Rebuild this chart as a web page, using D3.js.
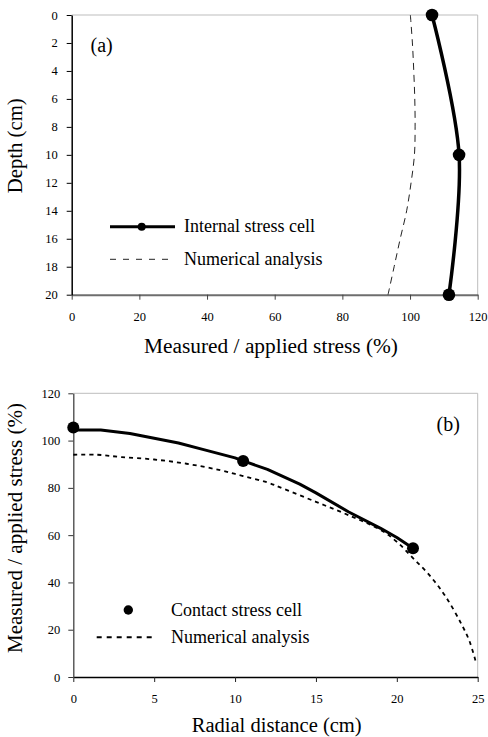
<!DOCTYPE html>
<html><head><meta charset="utf-8">
<script src="https://cdn.jsdelivr.net/npm/d3@7/dist/d3.min.js"></script>
<style>
body{margin:0;background:#fff}
svg{display:block}
</style>
</head><body><svg id="c" width="488" height="737"></svg>
<script>
// ---------- Panel (a) data ----------
const depthA = [0, 10, 20];
const internalStressA = [106.5, 114.5, 111.5];
const numDepthA = [0, 2, 4, 6, 8, 10, 12, 14, 16, 18, 20];
const numStressA = [100.1, 100.7, 101.1, 101.4, 101.5, 101.3, 100.3, 99.0, 97.1, 95.3, 93.5];
const xTicksA = [0, 20, 40, 60, 80, 100, 120];
const yTicksA = [0, 2, 4, 6, 8, 10, 12, 14, 16, 18, 20];
const labelA = "(a)";
const xTitleA = "Measured / applied stress (%)";
const yTitleA = "Depth (cm)";
const legendA = ["Internal stress cell", "Numerical analysis"];

// ---------- Panel (b) data ----------
const contactX = [0, 10.5, 21];
const contactStress = [105.5, 91.4, 54.5];
const measuredX = [0, 1.7, 3.5, 5, 6.5, 8, 10, 10.5, 12, 14, 15, 17, 19, 20, 21];
const measuredStress = [104.5, 104.5, 103, 101, 99, 96.3, 92.7, 91.4, 87.8, 81.6, 77.9, 69.9, 62.9, 59, 54.5];
const numXB = [0, 1.5, 3, 5, 7, 9, 10.5, 12, 13, 15, 17, 19, 20, 21, 22, 23, 24, 24.5, 24.9];
const numStressB = [94, 94, 93, 92, 90.2, 87.6, 85, 82.3, 79.6, 74.1, 68.5, 62.2, 57.2, 50.3, 43.2, 34.2, 22.3, 15, 6];
const xTicksB = [0, 5, 10, 15, 20, 25];
const yTicksB = [0, 20, 40, 60, 80, 100, 120];
const labelB = "(b)";
const xTitleB = "Radial distance (cm)";
const yTitleB = "Measured / applied stress (%)";
const legendB = ["Contact stress cell", "Numerical analysis"];

const svg = d3.select("#c");

// ================= Panel (a) =================
{
  const L = 71.7, R = 477.7, T = 15, B = 294.7;
  const x = d3.scaleLinear().domain([0, 120]).range([L, R]);
  const y = d3.scaleLinear().domain([0, 20]).range([T, B]);
  const g = svg.append("g");

  g.append("path").attr("d", `M${L},${T}H${R}V${B}`).attr("fill", "none")
    .attr("stroke", "#bdbdbd").attr("stroke-width", 1);

  const xa = g.append("g").attr("transform", `translate(0,${B})`)
    .call(d3.axisBottom(x).tickValues(xTicksA).tickSize(5).tickSizeOuter(0).tickPadding(12));
  xa.select(".domain").attr("stroke", "#6e6e6e").attr("stroke-width", 2);
  xa.selectAll(".tick line").attr("stroke", "#444").attr("stroke-width", 1);
  xa.selectAll(".tick text").attr("font-size", 12.5).attr("fill", "#111");

  const ya = g.append("g").attr("transform", `translate(${L},0)`)
    .call(d3.axisLeft(y).tickValues(yTicksA).tickSize(5).tickSizeOuter(0).tickPadding(9));
  ya.select(".domain").attr("stroke", "#000").attr("stroke-width", 1.5);
  ya.selectAll(".tick line").attr("stroke", "#000").attr("stroke-width", 1);
  ya.selectAll(".tick text").attr("font-size", 12.5).attr("fill", "#111");

  const numLine = d3.line().x((d, i) => x(numStressA[i])).y(d => y(d)).curve(d3.curveCatmullRom);
  g.append("path").attr("d", numLine(numDepthA)).attr("fill", "none")
    .attr("stroke", "#222").attr("stroke-width", 1).attr("stroke-dasharray", "7,5");

  const cellLine = d3.line().x((d, i) => x(internalStressA[i])).y(d => y(d)).curve(d3.curveCardinal.tension(0));
  g.append("path").attr("d", cellLine(depthA)).attr("fill", "none")
    .attr("stroke", "#000").attr("stroke-width", 3.5);
  g.selectAll("circle.pa").data(depthA).join("circle").attr("class", "pa")
    .attr("cx", (d, i) => x(internalStressA[i])).attr("cy", d => y(d)).attr("r", 6.3).attr("fill", "#000");

  g.append("text").attr("x", 90.5).attr("y", 52).attr("font-size", 20).text(labelA);

  g.append("line").attr("x1", 110).attr("x2", 175).attr("y1", 226.7).attr("y2", 226.7)
    .attr("stroke", "#000").attr("stroke-width", 3);
  g.append("circle").attr("cx", 141.7).attr("cy", 226.7).attr("r", 4).attr("fill", "#000");
  g.append("text").attr("x", 184).attr("y", 231.8).attr("font-size", 18).text(legendA[0]);
  g.append("line").attr("x1", 110).attr("x2", 175).attr("y1", 259.3).attr("y2", 259.3)
    .attr("stroke", "#222").attr("stroke-width", 1).attr("stroke-dasharray", "6,7");
  g.append("text").attr("x", 184).attr("y", 265).attr("font-size", 18).text(legendA[1]);

  g.append("text").attr("x", 271).attr("y", 353).attr("text-anchor", "middle").attr("font-size", 20)
    .attr("textLength", 254).attr("lengthAdjust", "spacingAndGlyphs").text(xTitleA);
  g.append("text").attr("transform", "translate(22,145.8) rotate(-90)").attr("text-anchor", "middle")
    .attr("font-size", 20).attr("textLength", 95).attr("lengthAdjust", "spacingAndGlyphs").text(yTitleA);
}

// ================= Panel (b) =================
{
  const L = 73.3, R = 477.7, T = 393.3, B = 677;
  const x = d3.scaleLinear().domain([0, 25]).range([L, R]);
  const y = d3.scaleLinear().domain([0, 120]).range([B, T]);
  const g = svg.append("g");

  g.append("path").attr("d", `M${L},${T}H${R}V${B}`).attr("fill", "none")
    .attr("stroke", "#bdbdbd").attr("stroke-width", 1);

  const xa = g.append("g").attr("transform", `translate(0,${B})`)
    .call(d3.axisBottom(x).tickValues(xTicksB).tickSize(5).tickSizeOuter(0).tickPadding(12));
  xa.select(".domain").attr("stroke", "#000").attr("stroke-width", 1.5);
  xa.selectAll(".tick line").attr("stroke", "#222").attr("stroke-width", 1);
  xa.selectAll(".tick text").attr("font-size", 12.5).attr("fill", "#111");

  const ya = g.append("g").attr("transform", `translate(${L},0)`)
    .call(d3.axisLeft(y).tickValues(yTicksB).tickSize(5).tickSizeOuter(0).tickPadding(8));
  ya.select(".domain").attr("stroke", "#444").attr("stroke-width", 1.3);
  ya.selectAll(".tick line").attr("stroke", "#333").attr("stroke-width", 1);
  ya.selectAll(".tick text").attr("font-size", 12.5).attr("fill", "#111");

  const numLine = d3.line().x(d => x(d)).y((d, i) => y(numStressB[i])).curve(d3.curveCatmullRom);
  g.append("path").attr("d", numLine(numXB)).attr("fill", "none")
    .attr("stroke", "#000").attr("stroke-width", 1.8).attr("stroke-dasharray", "4,4");

  const mLine = d3.line().x(d => x(d)).y((d, i) => y(measuredStress[i]));
  g.append("path").attr("d", mLine(measuredX)).attr("fill", "none")
    .attr("stroke", "#000").attr("stroke-width", 3).attr("stroke-linejoin", "round");

  g.selectAll("circle.pb").data(contactX).join("circle").attr("class", "pb")
    .attr("cx", d => x(d)).attr("cy", (d, i) => y(contactStress[i])).attr("r", 6).attr("fill", "#000");

  g.append("text").attr("x", 436.5).attr("y", 430.7).attr("font-size", 20).text(labelB);

  g.append("circle").attr("cx", 128.3).attr("cy", 610).attr("r", 4.7).attr("fill", "#000");
  g.append("text").attr("x", 171).attr("y", 616).attr("font-size", 18).text(legendB[0]);
  g.append("line").attr("x1", 96.7).attr("x2", 156.7).attr("y1", 637.3).attr("y2", 637.3)
    .attr("stroke", "#000").attr("stroke-width", 2).attr("stroke-dasharray", "5,5");
  g.append("text").attr("x", 171).attr("y", 642.7).attr("font-size", 18).text(legendB[1]);

  g.append("text").attr("x", 276.7).attr("y", 731.5).attr("text-anchor", "middle").attr("font-size", 20)
    .attr("textLength", 170).attr("lengthAdjust", "spacingAndGlyphs").text(xTitleB);
  g.append("text").attr("transform", "translate(22,528) rotate(-90)").attr("text-anchor", "middle")
    .attr("font-size", 20).attr("textLength", 250).attr("lengthAdjust", "spacingAndGlyphs").text(yTitleB);
}

// serif font on every text element and group
svg.selectAll("g").attr("font-family", "Liberation Serif");
svg.selectAll("text").attr("font-family", "Liberation Serif").attr("fill", "#000");
</script>
</body></html>
